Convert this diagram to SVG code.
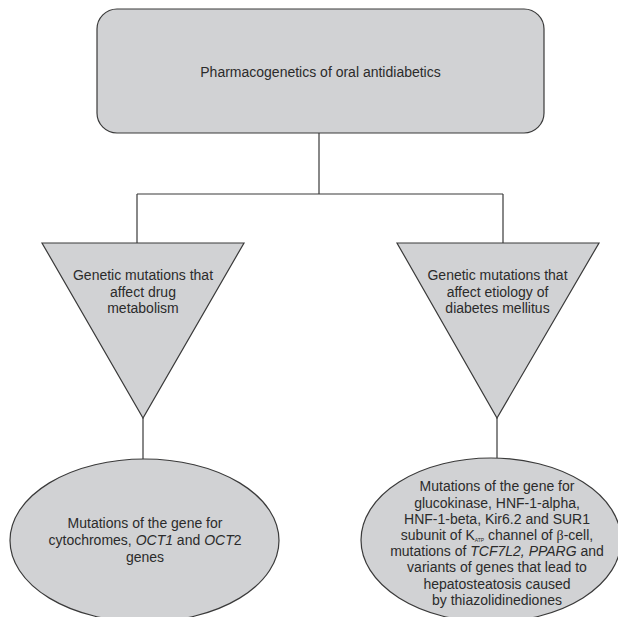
<svg xmlns="http://www.w3.org/2000/svg" width="618" height="617" viewBox="0 0 618 617">
<style>
.shape{fill:#d1d2d4;stroke:#3a3a3a;stroke-width:1.2}
.conn{fill:none;stroke:#3a3a3a;stroke-width:1.2}
text{font-family:"Liberation Sans",Arial,sans-serif;font-size:14px;fill:#2b2b2b;text-anchor:middle}
.sym{font-family:"Liberation Serif","Times New Roman",serif}
</style>
<rect width="618" height="617" fill="#ffffff"/>
<g id="connectors">
<path class="conn" d="M319,133 V194 M137,194 H503 M137,194 V243 M503,194 V243"/>
<path class="conn" d="M143,418 V459 M497,418 V458"/>
</g>
<g id="root">
<rect class="shape" x="97" y="9" width="447" height="124" rx="20" ry="20"/>
<text x="320.5" y="77">Pharmacogenetics of oral antidiabetics</text>
</g>
<g id="tri-left">
<polygon class="shape" points="42,243 244,243 143,418"/>
<text x="143" y="280">Genetic mutations that</text>
<text x="143" y="297">affect drug</text>
<text x="143" y="313">metabolism</text>
</g>
<g id="tri-right">
<polygon class="shape" points="397,243 599,243 497,418"/>
<text x="497.5" y="280">Genetic mutations that</text>
<text x="497.5" y="297">affect etiology of</text>
<text x="497.5" y="313">diabetes mellitus</text>
</g>
<g id="ellipse-left">
<ellipse class="shape" cx="144.5" cy="540.5" rx="134.5" ry="81.5"/>
<text x="145" y="528">Mutations of the gene for</text>
<text x="145" y="545">cytochromes, <tspan font-style="italic">OCT1</tspan> and <tspan font-style="italic">OCT</tspan>2</text>
<text x="145" y="562">genes</text>
</g>
<g id="ellipse-right">
<ellipse class="shape" cx="491" cy="540" rx="130" ry="82"/>
<text x="497" y="491">Mutations of the gene for</text>
<text x="497" y="507.5">glucokinase, HNF-1-alpha,</text>
<text x="497" y="523.5">HNF-1-beta, Kir6.2 and SUR1</text>
<text x="497" y="540">subunit of K<tspan font-size="5" dy="1.5">ATP</tspan><tspan dy="-1.5"> channel of </tspan><tspan class="sym">β</tspan>-cell,</text>
<text x="497" y="556">mutations of <tspan font-style="italic">TCF7L2, PPARG</tspan> and</text>
<text x="497" y="572">variants of genes that lead to</text>
<text x="497" y="588.5">hepatosteatosis caused</text>
<text x="497" y="604.5">by thiazolidinediones</text>
</g>
</svg>
